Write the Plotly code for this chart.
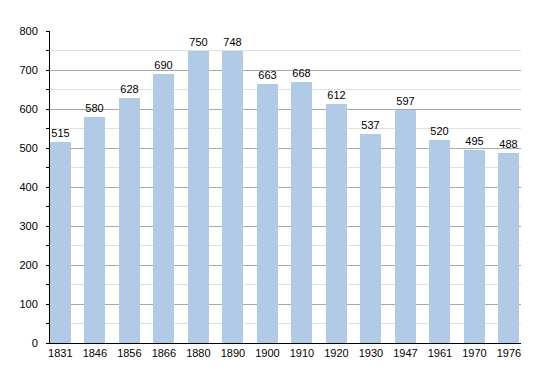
import plotly.graph_objects as go

years = ["1831", "1846", "1856", "1866", "1880", "1890", "1900", "1910", "1920", "1930", "1947", "1961", "1970", "1976"]
population = [515, 580, 628, 690, 750, 748, 663, 668, 612, 537, 597, 520, 495, 488]

fig = go.Figure()
fig.add_trace(go.Bar(
    x=list(range(len(years))),
    y=population,
    width=0.61,
    marker=dict(color="#b1cae5", line=dict(width=0)),
    text=[str(v) for v in population],
    textposition="outside",
    textfont=dict(family="Liberation Sans, Arial", size=11, color="#000000"),
    cliponaxis=False,
))

fig.update_layout(
    width=542, height=365,
    margin=dict(l=42, r=29, t=23, b=30, autoexpand=False),
    paper_bgcolor="white", plot_bgcolor="white",
    showlegend=False,
    bargap=0,
    font=dict(family="Liberation Sans, Arial", size=11, color="#000000"),
    xaxis=dict(
        range=[-0.3, 13.35],
        tickmode="array",
        tickvals=list(range(len(years))),
        ticktext=years,
        showgrid=False,
        showline=True, linecolor="#000000", linewidth=1,
        ticks="", zeroline=False,
        automargin=False,
        tickfont=dict(size=11),
    ),
    yaxis=dict(
        range=[0, 800],
        dtick=100,
        showgrid=True, gridcolor="#a8a8a8", gridwidth=1,
        minor=dict(dtick=50, showgrid=True, gridcolor="#e0e0e0", ticks="outside", ticklen=3, tickcolor="#000000"),
        showline=True, linecolor="#000000", linewidth=1,
        ticks="outside", ticklen=3, tickcolor="#000000",
        zeroline=False,
        automargin=False,
        ticklabelstandoff=6,
        tickfont=dict(size=11),
    ),
)

fig.write_html("out.html")
